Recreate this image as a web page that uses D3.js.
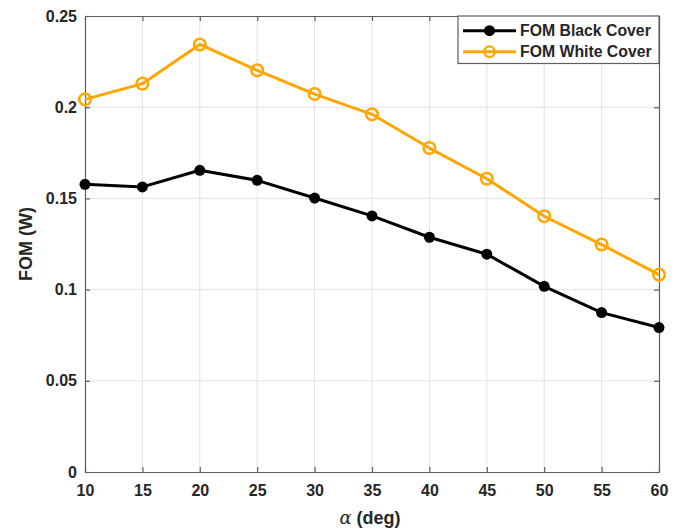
<!DOCTYPE html>
<html>
<head>
<meta charset="utf-8">
<script src="https://cdn.jsdelivr.net/npm/d3@7"></script>
<style>
  html, body { margin: 0; padding: 0; background: #fff; }
  svg { display: block; }
  text { font-family: "Liberation Sans", Arial, Helvetica, sans-serif; font-weight: bold; fill: #262626; }
</style>
</head>
<body>
<svg id="chart" width="686" height="532"></svg>
<script>
// Tilt angle (deg) and figure of merit for each cover type
const angles = [10, 15, 20, 25, 30, 35, 40, 45, 50, 55, 60];
const fomBlack = [0.1577, 0.1563, 0.1654, 0.1599, 0.1502, 0.1404, 0.1287, 0.1194, 0.1018, 0.0874, 0.0792];
const fomWhite = [0.2043, 0.2129, 0.2344, 0.2202, 0.2072, 0.1961, 0.1776, 0.1608, 0.1402, 0.1247, 0.1082];
const xTicks = [10, 15, 20, 25, 30, 35, 40, 45, 50, 55, 60];
const yTicks = [0, 0.05, 0.1, 0.15, 0.2, 0.25];
const yTickLabels = ["0", "0.05", "0.1", "0.15", "0.2", "0.25"];
const seriesNames = ["FOM Black Cover", "FOM White Cover"];

const svg = d3.select("#chart");
const plotL = 85, plotR = 659, plotT = 16, plotB = 472;

const x = d3.scaleLinear().domain([10, 60]).range([plotL, plotR]);
const y = d3.scaleLinear().domain([0, 0.25]).range([plotB, plotT]);

const axisColor = "#5e5e5e";
const gridColor = "#e3e3e3";
const orange = "#ffa600";

// grid
const grid = svg.append("g");
grid.selectAll("line.gx").data(xTicks.slice(1, -1)).join("line")
  .attr("x1", d => x(d)).attr("x2", d => x(d))
  .attr("y1", plotT).attr("y2", plotB)
  .attr("stroke", gridColor).attr("stroke-width", 1);
grid.selectAll("line.gy").data(yTicks.slice(1, -1)).join("line")
  .attr("y1", d => y(d)).attr("y2", d => y(d))
  .attr("x1", plotL).attr("x2", plotR)
  .attr("stroke", gridColor).attr("stroke-width", 1);

// axes with inward ticks on all four sides
const tickLen = 5;
const fmt = d => yTickLabels[yTicks.indexOf(d)];
const xAxis = d3.axisBottom(x).tickValues(xTicks).tickSizeInner(-tickLen).tickSizeOuter(0).tickPadding(13);
const xAxisTop = d3.axisTop(x).tickValues(xTicks).tickSizeInner(-tickLen).tickSizeOuter(0).tickFormat("");
const yAxis = d3.axisLeft(y).tickValues(yTicks).tickFormat(fmt).tickSizeInner(-tickLen).tickSizeOuter(0).tickPadding(8);
const yAxisRight = d3.axisRight(y).tickValues(yTicks).tickSizeInner(-tickLen).tickSizeOuter(0).tickFormat("");

function styleAxis(g) {
  g.select(".domain").attr("stroke", axisColor).attr("stroke-width", 1.2);
  g.selectAll(".tick line").attr("stroke", axisColor).attr("stroke-width", 1.2);
  g.selectAll(".tick text").attr("font-size", 16).attr("fill", "#262626")
    .attr("font-family", '"Liberation Sans", Arial, sans-serif').attr("font-weight", "bold");
}

svg.append("g").attr("transform", `translate(0,${plotB})`).call(xAxis).call(styleAxis);
svg.append("g").attr("transform", `translate(0,${plotT})`).call(xAxisTop).call(styleAxis);
svg.append("g").attr("transform", `translate(${plotL},0)`).call(yAxis).call(styleAxis);
svg.append("g").attr("transform", `translate(${plotR},0)`).call(yAxisRight).call(styleAxis);

// series
const line = d3.line().x(d => x(d[0])).y(d => y(d[1]));
const blackPts = angles.map((a, i) => [a, fomBlack[i]]);
const whitePts = angles.map((a, i) => [a, fomWhite[i]]);

svg.append("path").datum(blackPts).attr("d", line)
  .attr("fill", "none").attr("stroke", "#000").attr("stroke-width", 3).attr("stroke-linejoin", "round");
svg.selectAll("circle.b").data(blackPts).join("circle")
  .attr("class", "b")
  .attr("cx", d => x(d[0])).attr("cy", d => y(d[1])).attr("r", 5.5).attr("fill", "#000");

svg.append("path").datum(whitePts).attr("d", line)
  .attr("fill", "none").attr("stroke", orange).attr("stroke-width", 3).attr("stroke-linejoin", "round");
svg.selectAll("circle.w").data(whitePts).join("circle")
  .attr("class", "w")
  .attr("cx", d => x(d[0])).attr("cy", d => y(d[1])).attr("r", 5.8)
  .attr("fill", "none").attr("stroke", orange).attr("stroke-width", 2.5);

// axis labels
svg.append("text")
  .attr("transform", `translate(31.5,244) rotate(-90)`)
  .attr("text-anchor", "middle").attr("font-size", 18).text("FOM (W)");
const xl = svg.append("text").attr("x", 370).attr("y", 524).attr("text-anchor", "middle").attr("font-size", 18);
xl.append("tspan").attr("font-family", '"DejaVu Serif", "Liberation Serif", serif').attr("font-style", "italic").attr("font-weight", "normal").text("α");
xl.append("tspan").text(" (deg)");

// legend
const lg = svg.append("g");
lg.append("rect").attr("x", 458).attr("y", plotT).attr("width", plotR - 458).attr("height", 47.5)
  .attr("fill", "#fff").attr("stroke", axisColor).attr("stroke-width", 1.2);
const rows = [
  { name: seriesNames[0], color: "#000", filled: true, yy: 30.7 },
  { name: seriesNames[1], color: orange, filled: false, yy: 51.7 }
];
rows.forEach(r => {
  lg.append("line").attr("x1", 463).attr("x2", 516).attr("y1", r.yy).attr("y2", r.yy)
    .attr("stroke", r.color).attr("stroke-width", 3);
  const c = lg.append("circle").attr("cx", 489.5).attr("cy", r.yy).attr("r", r.filled ? 5.5 : 5.3);
  if (r.filled) c.attr("fill", r.color);
  else c.attr("fill", "none").attr("stroke", r.color).attr("stroke-width", 2.3);
  lg.append("text").attr("x", 520).attr("y", r.yy + 5.6).attr("font-size", 15.8).text(r.name);
});
</script>
</body>
</html>
